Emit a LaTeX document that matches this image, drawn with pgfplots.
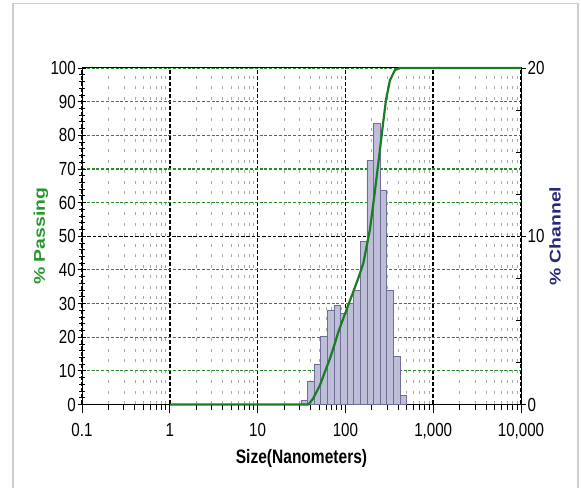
\documentclass[border=0pt]{standalone}
\usepackage{fontspec}
\setmainfont{Liberation Sans}
\newfontfamily\narrowfont{Liberation Sans}[FakeStretch=0.8]
\usepackage{graphicx}
\usepackage{pgfplots}
\pgfplotsset{compat=1.18}

\definecolor{passgreen}{RGB}{25,125,35}
\definecolor{labelgreen}{RGB}{40,150,45}
\definecolor{gridgreen}{RGB}{40,140,40}
\definecolor{chanblue}{RGB}{40,40,120}
\definecolor{barfill}{RGB}{190,190,216}
\definecolor{baredge}{RGB}{110,110,150}
\definecolor{minorgray}{RGB}{170,170,170}
\definecolor{framegray}{RGB}{205,205,205}

% channel histogram: left bin edge, % channel (last row = right edge)
\pgfplotstableread{
size ch
31.11 0.23
37.00 1.35
44.00 2.41
52.33 4.03
62.23 5.62
74.00 5.91
88.00 5.42
104.7 6.01
124.5 6.80
148.0 9.67
176.0 14.53
209.3 16.71
248.9 12.75
296.0 6.80
352.0 2.84
418.6 0.56
497.8 0.56
}\channel

% cumulative % passing
\pgfplotstableread{
size pass
1 0
38 0
43 1.8
51.4 5.8
58.6 9.8
66.8 13.7
74.9 17.7
83.2 21.6
94.7 25.6
107.9 29.6
123 33.5
140 37.5
160 42.0
190 51.9
213 61.8
237 71.7
263 81.6
290 90.5
322 96.4
367 99.4
420 100
10000 100
}\passing

\pgfplotsset{
  every axis/.append style={
    at={(82bp,83.5bp)}, anchor=south west,
    scale only axis, width=439bp, height=336.5bp,
    xmin=0.1, xmax=10000,
    tick label style={font=\narrowfont\fontsize{19}{20}\selectfont},
    axis line style={black, line width=1bp},
  },
  every tick/.append style={black, line width=0.8bp},
  /pgf/number format/assume math mode=true,
}

\begin{document}
\begin{tikzpicture}[x=1bp,y=1bp]
\useasboundingbox (0,0) rectangle (581,488);
\draw[framegray, line width=1.5bp] (13,-5) rectangle (578,484.5);

% grid, left and bottom axes
\begin{axis}[xmode=log,
  ymin=0, ymax=100,
  xtick pos=left, ytick pos=left,
  tick align=center,
  major tick length=9bp, minor tick length=6bp,
  major x tick style={yshift=-4.5bp},
  minor x tick style={yshift=-3bp},
  xtick={0.1,1,10,100,1000,10000},
  xticklabels={0.1,1,10,100,{1,000},{10,000}},
  xticklabel style={yshift=-11bp},
  minor xtick={0.2,0.3,0.4,0.5,0.6,0.7,0.8,0.9,2,3,4,5,6,7,8,9,20,30,40,50,60,70,80,90,200,300,400,500,600,700,800,900,2000,3000,4000,5000,6000,7000,8000,9000},
  ytick={0,10,20,30,40,60,70,80,90,100},
  minor ytick={2,4,6,8,12,14,16,18,22,24,26,28,32,34,36,38,42,44,46,48,52,54,56,58,62,64,66,68,72,74,76,78,82,84,86,88,92,94,96,98},
  yticklabel style={inner xsep=1.5bp},
  xmajorgrids, xminorgrids, ymajorgrids,
  major x grid style={black, line width=1.6bp, dash pattern=on 4bp off 2bp},
  minor x grid style={minorgray, line width=0.7bp, dash pattern=on 3bp off 7.5bp},
  major y grid style={gridgreen, line width=1.2bp, dash pattern=on 3bp off 1.8bp},
  extra y ticks={50}, extra y tick labels={50},
  extra y tick style={grid=major,
    major y grid style={black, line width=1.2bp, dash pattern=on 3.5bp off 1.8bp}},
  xlabel={\bfseries Size(Nanometers)},
  every axis x label/.style={at={(axis description cs:0.5,0)}, anchor=center, yshift=-54bp,
    font=\narrowfont\fontsize{19.5}{20}\selectfont},
  ylabel={\scalebox{1}[0.8]{\bfseries\% Passing}},
  every axis y label/.style={at={(axis description cs:0,0.5)}, xshift=-41bp, rotate=90, anchor=center,
    text=labelgreen, font=\fontsize{19.5}{20}\selectfont},
]
\end{axis}

% histogram on the right axis
\begin{axis}[xmode=log,
  ymin=0, ymax=20,
  axis x line=none, axis y line*=right,
  ytick={0,10,20}, tick align=outside, major tick length=5bp,
  yticklabel style={inner xsep=1.5bp},
  extra y ticks={2.5,5,7.5,12.5,15,17.5}, extra y tick labels={},
  extra y tick style={tick align=inside},
  ylabel={\scalebox{1}[0.8]{\bfseries\% Channel}},
  every axis y label/.style={at={(axis description cs:1,0.5)}, xshift=34bp, rotate=90, anchor=center,
    text=chanblue, font=\fontsize{19.5}{20}\selectfont},
]
\addplot[ybar interval, fill=barfill, draw=baredge, line width=0.6bp] table[x=size, y=ch] {\channel};
\end{axis}

% cumulative curve on top
\begin{axis}[xmode=log, ymin=0, ymax=100, hide axis, clip=false]
\addplot[passgreen, line width=2.2bp, line join=round] table[x=size, y=pass] {\passing};
\end{axis}
\end{tikzpicture}
\end{document}
